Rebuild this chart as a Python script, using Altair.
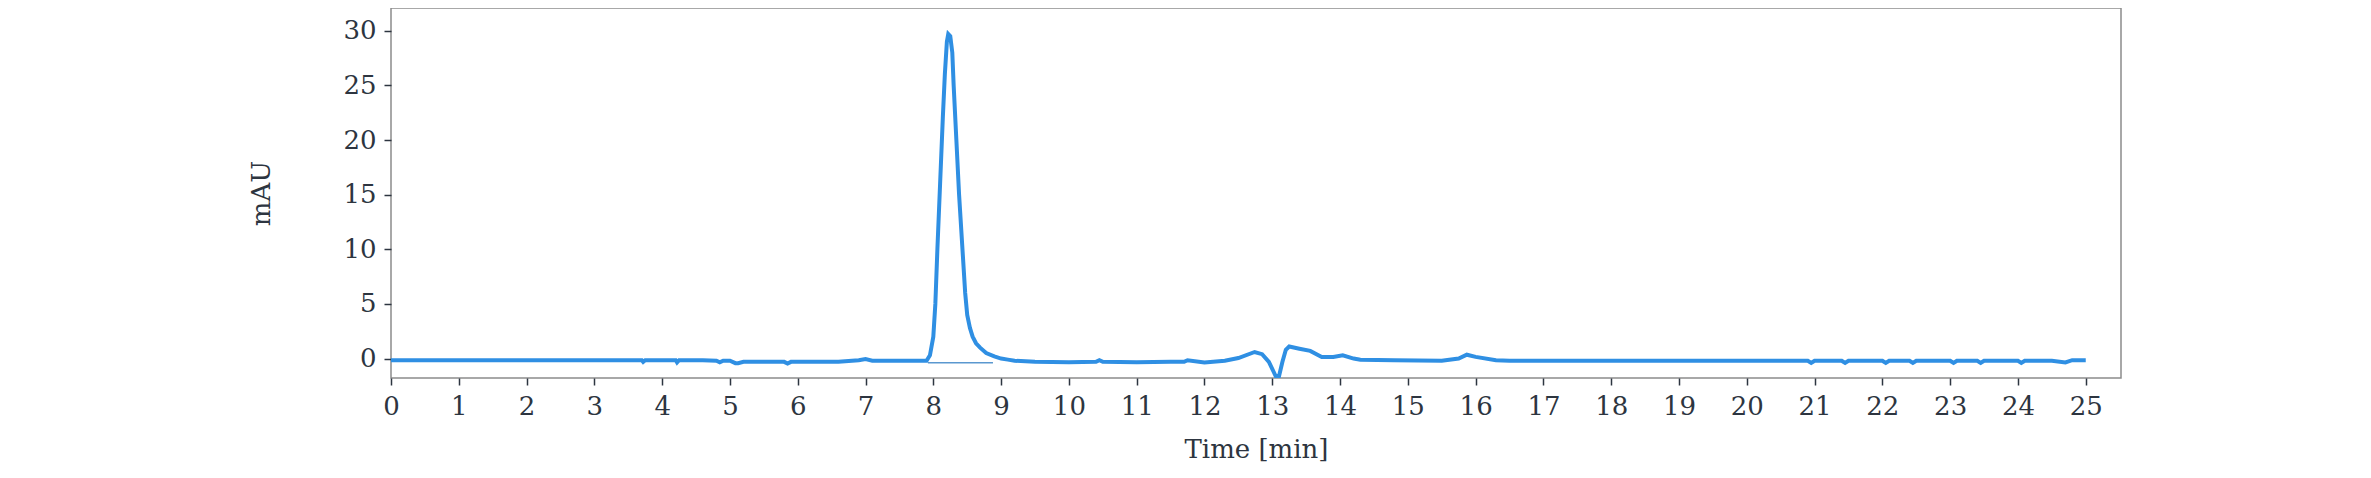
import altair as alt
import pandas as pd

# Chromatogram trace (time in min, signal in mAU)
time_min = [
    0.0, 1.0, 2.0, 3.0, 3.7, 3.72, 3.75, 4.2, 4.22, 4.25, 4.6, 4.8, 4.85, 4.9, 5.0,
    5.08, 5.12, 5.2, 5.5, 5.8, 5.85, 5.9, 6.2, 6.6, 6.9, 7.0, 7.1, 7.5, 7.9,
    7.95, 8.0, 8.03, 8.06, 8.1, 8.14, 8.17, 8.2, 8.22, 8.25, 8.28, 8.3, 8.34,
    8.38, 8.43, 8.47, 8.5, 8.54, 8.58, 8.63, 8.69, 8.78, 8.9, 9.0, 9.1, 9.2, 9.5,
    10.0, 10.4, 10.45, 10.5, 11.0, 11.5, 11.7, 11.75, 12.0, 12.3, 12.5, 12.74,
    12.85, 12.95, 13.05, 13.1, 13.15, 13.2, 13.25, 13.4, 13.56, 13.73, 13.9,
    14.04, 14.2, 14.3, 14.8, 15.5, 15.75, 15.87, 16.0, 16.3, 16.5, 17.0, 18.0,
    19.0, 20.0, 20.9, 20.95, 21.0, 21.4, 21.45, 21.5, 22.0, 22.05, 22.1, 22.4,
    22.45, 22.5, 23.0, 23.05, 23.1, 23.4, 23.45, 23.5, 24.0, 24.05, 24.1, 24.5,
    24.7, 24.8, 25.0,
]
signal_mau = [
    -0.15, -0.15, -0.15, -0.15, -0.15, -0.3, -0.15, -0.15, -0.35, -0.15, -0.15, -0.2, -0.35, -0.2, -0.2,
    -0.42, -0.42, -0.3, -0.3, -0.3, -0.45, -0.3, -0.3, -0.3, -0.15, -0.05, -0.2, -0.2, -0.2,
    0.3, 2.0, 5.0, 10.0, 16.0, 22.0, 26.0, 29.0, 29.7, 29.5, 28.0, 25.0, 20.0,
    15.0, 10.0, 6.0, 4.0, 2.8, 2.0, 1.4, 1.0, 0.5, 0.2, 0.0, -0.1, -0.2, -0.3,
    -0.35, -0.3, -0.15, -0.3, -0.35, -0.3, -0.3, -0.15, -0.35, -0.2, 0.05, 0.6,
    0.4, -0.3, -1.6, -1.6, -0.3, 0.8, 1.1, 0.9, 0.7, 0.15, 0.15,
    0.3, 0.0, -0.1, -0.15, -0.2, 0.0, 0.35, 0.15, -0.15, -0.2, -0.2, -0.2,
    -0.2, -0.2, -0.2, -0.4, -0.2, -0.2, -0.4, -0.2, -0.2, -0.4, -0.2, -0.2,
    -0.4, -0.2, -0.2, -0.4, -0.2, -0.2, -0.4, -0.2, -0.2, -0.4, -0.2, -0.2,
    -0.35, -0.15, -0.15,
]

# Integration baseline under the main peak
base_time = [7.92, 8.88]
base_mau = [-0.38, -0.38]

x_ticks = list(range(0, 26))
y_ticks = [0, 5, 10, 15, 20, 25, 30]

trace = pd.DataFrame({"t": time_min, "v": signal_mau})
baseline = pd.DataFrame({"t": base_time, "v": base_mau})

FONT = "DejaVu Serif"
TXT = "#2d3540"

x_enc = alt.X(
    "t:Q",
    scale=alt.Scale(domain=[0, 25.52], nice=False, zero=False),
    axis=alt.Axis(
        title="Time [min]", values=x_ticks, format="d", grid=False, domain=False,
        tickSize=7, tickColor=TXT, tickWidth=1.5, labelPadding=8, labelFlush=False,
        labelFont=FONT, labelFontSize=26, labelColor=TXT,
        titleFont=FONT, titleFontSize=26, titleFontWeight="normal", titleColor=TXT,
        titlePadding=17,
    ),
)
y_enc = alt.Y(
    "v:Q",
    scale=alt.Scale(domain=[-1.78, 32.08], nice=False, zero=False),
    axis=alt.Axis(
        title="mAU", values=y_ticks, format="d", grid=False, domain=False,
        tickSize=7, tickColor=TXT, tickWidth=1.5, labelPadding=8, labelFlush=False,
        labelFont=FONT, labelFontSize=26, labelColor=TXT,
        titleFont=FONT, titleFontSize=26, titleFontWeight="normal", titleColor=TXT,
        titlePadding=68,
    ),
)

line = alt.Chart(trace).mark_line(color="#2f8fe3", strokeWidth=4, clip=True).encode(x=x_enc, y=y_enc)
base = alt.Chart(baseline).mark_line(color="#5a98cf", strokeWidth=1.5).encode(x="t:Q", y="v:Q")

chart = (
    alt.layer(base, line)
    .properties(
        width=1730,
        height=370,
        autosize=alt.AutoSizeParams(type="none"),
        padding={"left": 383, "top": 0, "right": 242, "bottom": 92},
        background="white",
    )
    .configure_view(stroke="#8c8c8c", strokeWidth=1.5, fill="white")
)

chart.save("out.html", embed_options={"renderer": "svg", "actions": False})
